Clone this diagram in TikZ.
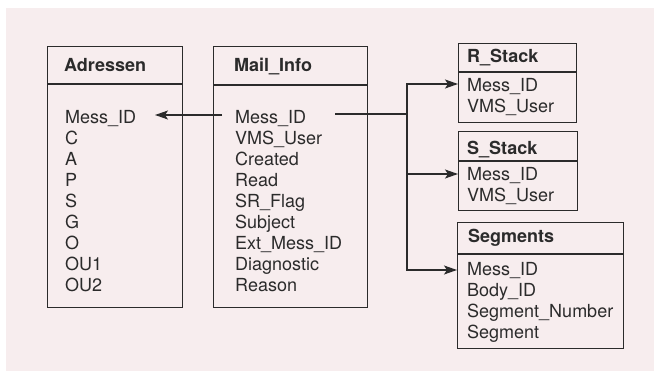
\documentclass[tikz,border=0pt]{standalone}
\usepackage{fontspec}
\setmainfont{TeX Gyre Heros}
\usetikzlibrary{arrows.meta}
\definecolor{paper}{HTML}{F7EDEE}
\definecolor{ink}{HTML}{2B2B2B}
\begin{document}
\begin{tikzpicture}[x=1pt,y=-1pt,
  tbl/.style={draw=ink, line width=1.4pt, anchor=north west, inner sep=0pt},
  field/.style={anchor=base west, inner sep=0pt, font=\fontsize{18}{21}\selectfont, text=ink},
  head/.style={field, font=\fontsize{18}{21}\selectfont\bfseries},
  link/.style={draw=ink, line width=1.4pt},
  tip/.style={-{Stealth[length=13pt,width=9pt,inset=3pt]}}
]
\useasboundingbox (0,0) rectangle (654,371);
\fill[paper] (6,8) rectangle (654,371);

% table frames
\node[tbl, minimum width=135pt, minimum height=261pt] (adrbox) at (47,46) {};
\node[tbl, minimum width=154pt, minimum height=261pt] (mibox)  at (213,46) {};
\node[tbl, minimum width=118pt, minimum height=79pt]  (rsbox)  at (458,43) {};
\node[tbl, minimum width=119pt, minimum height=79pt]  (ssbox)  at (458,131) {};
\node[tbl, minimum width=166pt, minimum height=126pt] (sgbox)  at (457,222) {};

% header separators
\draw[link] (adrbox.west |- 0,84)  -- (adrbox.east |- 0,84);
\draw[link] (mibox.west |- 0,85)   -- (mibox.east |- 0,85);
\draw[link] (rsbox.west |- 0,72)   -- (rsbox.east |- 0,72);
\draw[link] (ssbox.west |- 0,161)  -- (ssbox.east |- 0,161);
\draw[link] (sgbox.west |- 0,254)  -- (sgbox.east |- 0,254);

% table names
\node[head] (adrhead) at (64,72)  {Adressen};
\node[head] (mihead)  at (234,72) {Mail\_Info};
\node[head] (rshead)  at (467,63) {R\_Stack};
\node[head] (sshead)  at (467,155) {S\_Stack};
\node[head] (sghead)  at (468,243) {Segments};

% fields
\foreach \t [count=\i] in {Mess\_ID,C,A,P,S,G,O,OU1,OU2}
  \node[field] (adr\i) at (65,{124+21*(\i-1)}) {\t};
\foreach \t [count=\i] in {Mess\_ID,VMS\_User,Created,Read,SR\_Flag,Subject,Ext\_Mess\_ID,Diagnostic,Reason}
  \node[field] (mi\i) at (235,{124+21*(\i-1)}) {\t};
\foreach \t [count=\i] in {Mess\_ID,VMS\_User}
  \node[field] (rs\i) at (467,{92+21*(\i-1)}) {\t};
\foreach \t [count=\i] in {Mess\_ID,VMS\_User}
  \node[field] (ss\i) at (467,{181+21*(\i-1)}) {\t};
\foreach \t [count=\i] in {Mess\_ID,Body\_ID,Segment\_Number,Segment}
  \node[field] (sg\i) at (467,{276+21*(\i-1)}) {\t};

% key references
\coordinate (miin)  at (222,115);
\coordinate (adrin) at (155,115);
\coordinate (miout) at (335,114);
\coordinate (split) at (407,114);
\coordinate (rsin)  at (458,84);
\coordinate (ssin)  at (458,174);
\coordinate (sgin)  at (457,270);

\draw[link,tip] (miin) -- (adrin);
\draw[link] (miout) -- (split);
\draw[link,tip] (split) |- (rsin);
\draw[link,tip] (split) |- (ssin);
\draw[link,tip] (split) |- (sgin);
\end{tikzpicture}
\end{document}
